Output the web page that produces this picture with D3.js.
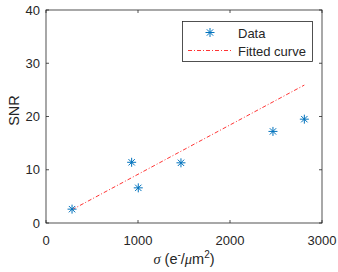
<!DOCTYPE html>
<html>
<head>
<meta charset="utf-8">
<script src="https://cdn.jsdelivr.net/npm/d3@7"></script>
<style>
  body { margin: 0; background: #fff; }
  text { font-family: "Liberation Sans", Arial, sans-serif; fill: #262626; }
</style>
</head>
<body>
<script>
// data
var sigma = [283, 931, 1003, 1467, 2467, 2808];
var snr = [2.6, 11.4, 6.6, 11.3, 17.2, 19.5];
var fitX = [283, 2808];
var fitY = [2.5, 25.9];
var xTicks = [0, 1000, 2000, 3000];
var yTicks = [0, 10, 20, 30, 40];

var W = 338, H = 272;
var m = {left: 46, right: 16, top: 10, bottom: 49};

var svg = d3.select("body").append("svg")
  .attr("width", W).attr("height", H);

var x = d3.scaleLinear().domain([0, 3000]).range([m.left, W - m.right]);
var y = d3.scaleLinear().domain([0, 40]).range([H - m.bottom, m.top]);

var axCol = "#262626";

// box
svg.append("rect")
  .attr("x", x(0)).attr("y", y(40))
  .attr("width", x(3000) - x(0)).attr("height", y(0) - y(40))
  .attr("fill", "none").attr("stroke", axCol).attr("stroke-width", 0.8);

// ticks (inward, on all four sides)
var tl = 3;
xTicks.forEach(function(t) {
  svg.append("line").attr("x1", x(t)).attr("x2", x(t))
    .attr("y1", y(0)).attr("y2", y(0) - tl).attr("stroke", axCol).attr("stroke-width", 0.8);
  svg.append("line").attr("x1", x(t)).attr("x2", x(t))
    .attr("y1", y(40)).attr("y2", y(40) + tl).attr("stroke", axCol).attr("stroke-width", 0.8);
  svg.append("text").attr("x", x(t)).attr("y", y(0) + 21.5)
    .attr("text-anchor", "middle").attr("font-size", 13).text(t);
});
yTicks.forEach(function(t) {
  svg.append("line").attr("x1", x(0)).attr("x2", x(0) + tl)
    .attr("y1", y(t)).attr("y2", y(t)).attr("stroke", axCol).attr("stroke-width", 0.8);
  svg.append("line").attr("x1", x(3000)).attr("x2", x(3000) - tl)
    .attr("y1", y(t)).attr("y2", y(t)).attr("stroke", axCol).attr("stroke-width", 0.8);
  svg.append("text").attr("x", x(0) - 6).attr("y", y(t) + 4.5)
    .attr("text-anchor", "end").attr("font-size", 13).text(t);
});

// axis labels
svg.append("text")
  .attr("transform", "translate(19," + ((y(0) + y(40)) / 2 - 6) + ") rotate(-90)")
  .attr("text-anchor", "middle").attr("font-size", 14.5).text("SNR");

var xl = svg.append("text").attr("x", (x(0) + x(3000)) / 2).attr("y", 264)
  .attr("text-anchor", "middle").attr("font-size", 14.5);
xl.append("tspan").attr("font-family", "Liberation Serif, serif").attr("font-style", "italic").text("σ");
xl.append("tspan").text(" (e");
xl.append("tspan").attr("dy", -6).attr("font-size", 10).text("-");
xl.append("tspan").attr("dy", 6).text("/");
xl.append("tspan").attr("font-family", "Liberation Serif, serif").attr("font-style", "italic").text("μ");
xl.append("tspan").text("m");
xl.append("tspan").attr("dy", -6).attr("font-size", 10).text("2");
xl.append("tspan").attr("dy", 6).text(")");

// fitted line
var line = d3.line().x(function(d) { return x(d[0]); }).y(function(d) { return y(d[1]); });
svg.append("path")
  .datum(d3.zip(fitX, fitY))
  .attr("d", line)
  .attr("fill", "none").attr("stroke", "#ff0000").attr("stroke-width", 0.8)
  .attr("stroke-dasharray", "4,2,1,2");

// asterisk marker
function star(g, cx, cy, r) {
  var d = "";
  [0, 45, 90, 135].forEach(function(a) {
    var rad = a * Math.PI / 180, dx = Math.cos(rad) * r, dy = Math.sin(rad) * r;
    d += "M" + (cx - dx) + "," + (cy - dy) + "L" + (cx + dx) + "," + (cy + dy);
  });
  g.append("path").attr("d", d).attr("stroke", "#0072BD").attr("stroke-width", 1).attr("fill", "none");
}
sigma.forEach(function(s, i) { star(svg, x(s), y(snr[i]), 4.5); });

// legend
var lg = svg.append("g");
lg.append("rect").attr("x", 182.5).attr("y", 21.5).attr("width", 130).attr("height", 40)
  .attr("fill", "#fff").attr("stroke", axCol).attr("stroke-width", 0.8);
star(lg, 210, 32.5, 4.5);
lg.append("text").attr("x", 238).attr("y", 37.5).attr("font-size", 13).text("Data");
lg.append("line").attr("x1", 188).attr("x2", 233).attr("y1", 50.5).attr("y2", 50.5)
  .attr("stroke", "#ff0000").attr("stroke-width", 0.8).attr("stroke-dasharray", "4,2,1,2");
lg.append("text").attr("x", 238).attr("y", 55.5).attr("font-size", 13).text("Fitted curve");
</script>
</body>
</html>
